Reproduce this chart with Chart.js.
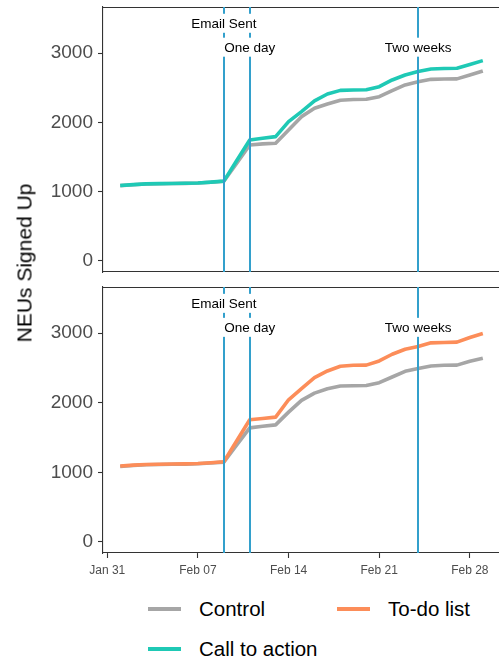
<!DOCTYPE html>
<html>
<head>
<meta charset="utf-8">
<script src="https://cdn.jsdelivr.net/npm/chart.js@4.4.1/dist/chart.umd.min.js"></script>
<style>
  body { margin: 0; background: #fff; font-family: "Liberation Sans", Arial, sans-serif; }
  #wrap { position: relative; width: 499px; height: 662px; overflow: hidden; }
  canvas { position: absolute; left: 0; }
  #c1 { top: 0; }
  #c2 { top: 280px; }
  #ytitle {
    position: absolute; left: 24px; top: 263px;
    transform: translate(-50%, -50%) rotate(-90deg);
    font-size: 21px; color: #000; white-space: nowrap; line-height: 1;
  }
  #legend { position: absolute; left: 0; top: 0; }
  .item { position: absolute; display: flex; align-items: center; font-size: 20.5px; color: #000; white-space: nowrap; }
  .swatch { width: 33px; height: 4px; margin-right: 18px; }
</style>
</head>
<body>
<div id="wrap">
  <canvas id="c1" width="499" height="280"></canvas>
  <canvas id="c2" width="499" height="310"></canvas>
  <div id="ytitle">NEUs Signed Up</div>
  <div id="legend"></div>
</div>
<script>
// ---------------------------------------------------------------
// Data (days counted from Jan 31)
// ---------------------------------------------------------------
const days = [1, 2, 3, 4, 5, 6, 7, 8, 9, 10, 11, 12, 13, 14, 15, 16, 17, 18, 19, 20, 21, 22, 23, 24, 25, 26, 27, 28, 29];

const controlTop = [1088, 1100, 1110, 1115, 1118, 1120, 1125, 1135, 1150, 1410, 1674, 1690, 1700, 1890, 2083, 2203, 2265, 2320, 2330, 2333, 2371, 2458, 2540, 2585, 2621, 2626, 2628, 2684, 2742];
const callToAction = [1090, 1102, 1112, 1116, 1119, 1121, 1126, 1138, 1152, 1450, 1746, 1770, 1794, 2010, 2155, 2310, 2410, 2462, 2467, 2470, 2515, 2612, 2684, 2735, 2770, 2778, 2782, 2836, 2891];

const controlBottom = [1085, 1098, 1110, 1114, 1117, 1119, 1124, 1134, 1148, 1395, 1640, 1662, 1683, 1866, 2035, 2140, 2203, 2241, 2246, 2248, 2290, 2371, 2453, 2492, 2530, 2540, 2542, 2597, 2641];
const todoList = [1092, 1104, 1114, 1117, 1120, 1122, 1127, 1138, 1152, 1455, 1756, 1775, 1794, 2044, 2203, 2362, 2458, 2525, 2540, 2542, 2602, 2698, 2770, 2810, 2862, 2867, 2872, 2939, 2997];

const xTickDays = [0, 7, 14, 21, 28];
const xTickLabels = ["Jan 31", "Feb 07", "Feb 14", "Feb 21", "Feb 28"];
const yTicks = [0, 1000, 2000, 3000];

// vertical event lines and their labels
const eventDays = [9, 11, 24];
const eventLabels = ["Email Sent", "One day", "Two weeks"];
const eventLabelY = [3430, 3085, 3085];

const COL_CONTROL = "#a6a6a6";
const COL_CTA = "#1fc9b5";
const COL_TODO = "#fc8d59";
const COL_EVENT = "#33a0cc";
const COL_AXIS = "#333333";

// ---------------------------------------------------------------
// Plugin: event lines + white-box labels + top border
// ---------------------------------------------------------------
const eventPlugin = {
    id: "eventLines",
    afterDatasetsDraw(chart) {
        const { ctx, chartArea, scales } = chart;
        const x = scales.x, y = scales.y;
        ctx.save();
        // top border
        ctx.strokeStyle = COL_AXIS;
        ctx.lineWidth = 1.1;
        ctx.beginPath();
        ctx.moveTo(chartArea.left, chartArea.top + 0.5);
        ctx.lineTo(chartArea.right, chartArea.top + 0.5);
        ctx.stroke();

        ctx.strokeStyle = COL_EVENT;
        ctx.lineWidth = 2;
        eventDays.forEach(d => {
            const px = Math.round(x.getPixelForValue(d));
            ctx.beginPath();
            ctx.moveTo(px, chartArea.top);
            ctx.lineTo(px, chartArea.bottom);
            ctx.stroke();
        });

        ctx.font = "13.5px 'Liberation Sans', Arial, sans-serif";
        ctx.textAlign = "center";
        ctx.textBaseline = "middle";
        eventDays.forEach((d, i) => {
            const px = x.getPixelForValue(d);
            const py = y.getPixelForValue(eventLabelY[i]);
            const w = ctx.measureText(eventLabels[i]).width + 6;
            const h = 19;
            ctx.fillStyle = "#ffffff";
            ctx.fillRect(px - w / 2, py - h / 2, w, h);
            ctx.fillStyle = "#000000";
            ctx.fillText(eventLabels[i], px, py + 1);
        });
        ctx.restore();
    }
};

function series(label, values, color, order) {
    return {
        label: label,
        data: days.map((d, i) => ({ x: d, y: values[i] })),
        borderColor: color,
        backgroundColor: color,
        borderWidth: 3.6,
        pointRadius: 0,
        tension: 0,
        borderJoinStyle: "round",
        order: order
    };
}

function makePanel(canvasId, datasets, showX, xHeight) {
    return new Chart(document.getElementById(canvasId), {
        type: "line",
        data: { datasets: datasets },
        options: {
            responsive: false,
            animation: false,
            devicePixelRatio: 1,
            layout: { padding: { top: 7, left: 0, right: 0, bottom: 0 } },
            plugins: { legend: { display: false }, tooltip: { enabled: false } },
            scales: {
                x: {
                    type: "linear",
                    min: -0.33,
                    max: 30.25,
                    afterFit: s => { s.height = xHeight; s.paddingLeft = 0; s.paddingRight = 0; },
                    afterBuildTicks: s => { s.ticks = xTickDays.map(v => ({ value: v })); },
                    border: { display: true, color: COL_AXIS, width: 1.1 },
                    grid: { display: showX, drawOnChartArea: false, drawTicks: showX, tickLength: 5, color: COL_AXIS, tickWidth: 1.1 },
                    ticks: {
                        display: showX,
                        padding: 5,
                        color: "#4d4d4d",
                        font: { family: "'Liberation Sans', Arial, sans-serif", size: 12 },
                        maxRotation: 0,
                        callback: v => xTickLabels[xTickDays.indexOf(v)]
                    }
                },
                y: {
                    min: -159,
                    max: 3665,
                    afterFit: s => { s.width = 103; s.paddingTop = 0; s.paddingBottom = 0; },
                    afterBuildTicks: s => { s.ticks = yTicks.map(v => ({ value: v })); },
                    border: { display: true, color: COL_AXIS, width: 1.1 },
                    grid: { drawOnChartArea: false, drawTicks: true, tickLength: 5, color: COL_AXIS, tickWidth: 1.1 },
                    ticks: {
                        padding: 5,
                        color: "#4d4d4d",
                        font: { family: "'Liberation Sans', Arial, sans-serif", size: 19 },
                        callback: v => String(v)
                    }
                }
            }
        },
        plugins: [eventPlugin]
    });
}

makePanel("c1", [
    series("Call to action", callToAction, COL_CTA, 1),
    series("Control", controlTop, COL_CONTROL, 2)
], false, 8);

makePanel("c2", [
    series("To-do list", todoList, COL_TODO, 1),
    series("Control", controlBottom, COL_CONTROL, 2)
], true, 37);

// ---------------------------------------------------------------
// Legend (HTML)
// ---------------------------------------------------------------
const legendItems = [
    { label: "Control", color: COL_CONTROL, left: 148, top: 609 },
    { label: "To-do list", color: COL_TODO, left: 337, top: 609 },
    { label: "Call to action", color: COL_CTA, left: 148, top: 649 }
];
const legend = document.getElementById("legend");
legendItems.forEach(it => {
    const div = document.createElement("div");
    div.className = "item";
    div.style.left = it.left + "px";
    div.style.top = (it.top - 12) + "px";
    div.style.height = "24px";
    div.innerHTML = `<span class="swatch" style="background:${it.color}"></span><span>${it.label}</span>`;
    legend.appendChild(div);
});
</script>
</body>
</html>
